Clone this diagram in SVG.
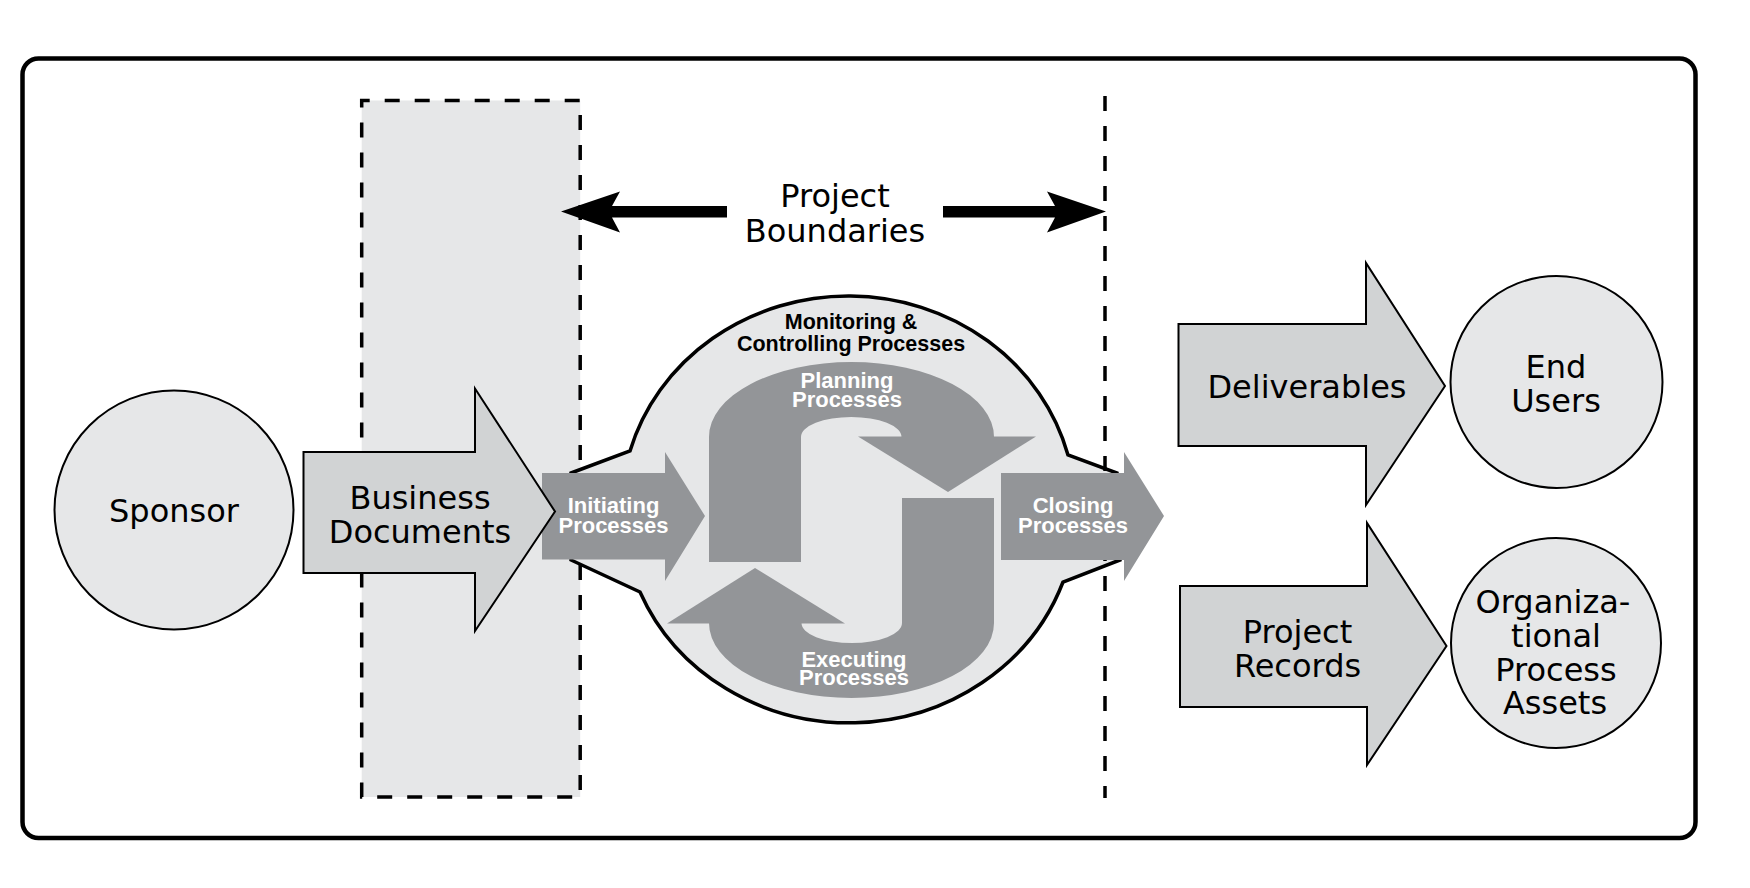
<svg xmlns="http://www.w3.org/2000/svg" width="1750" height="888" viewBox="0 0 1750 888">
  <style>
    .lbl { font-family: "DejaVu Sans", "Liberation Sans", sans-serif; font-size: 32px; fill: #000; text-anchor: middle; }
    .proc { font-family: "Liberation Sans", Arial, sans-serif; font-weight: bold; font-size: 22px; fill: #fff; text-anchor: middle; }
    .mon { font-family: "Liberation Sans", Arial, sans-serif; font-weight: bold; font-size: 21.5px; fill: #000; text-anchor: middle; }
    .light { fill: #e6e7e8; stroke: #000; stroke-width: 2; }
    .arrowL { fill: #d1d3d4; stroke: #000; stroke-width: 2; stroke-linejoin: miter; }
    .dark { fill: #939598; stroke: none; }
    .dash { fill: none; stroke: #000; stroke-width: 3.5; stroke-dasharray: 15 15; }
  </style>
  <rect x="0" y="0" width="1750" height="888" fill="#fff"/>
  <rect id="frame" x="22.5" y="58.5" width="1673" height="779.5" rx="16" ry="16" fill="#fff" stroke="#000" stroke-width="4.5"/>

  <g id="boundary-zone">
    <rect x="361.7" y="100.5" width="218.5" height="696.5" fill="#e6e7e8" stroke="none"/>
    <rect x="361.7" y="100.5" width="218.5" height="696.5" class="dash" stroke-dashoffset="7"/>
  </g>

  <g id="process-cloud">
    <path d="M 571 473 L 630 451 A 227 213 0 0 1 1068 455 L 1117 473 L 1120 560 L 1063 582 A 227 213 0 0 1 640 592 L 571 560 Z" fill="#e6e7e8" stroke="#000" stroke-width="3.5" stroke-linejoin="miter"/>
    <text class="mon" x="851" y="329">Monitoring &amp;<tspan x="851" dy="22">Controlling Processes</tspan></text>
  </g>

  <g id="connectors">
    <line x1="1105" y1="96" x2="1105" y2="798" class="dash"/>
    <polygon points="561,211.5 620,191.5 612,206 727,206 727,217.5 612,217.5 620,232.5" fill="#000"/>
    <polygon points="1106,211.5 1047,191.5 1055,206 943,206 943,217.5 1055,217.5 1047,232.5" fill="#000"/>
  </g>

  <g id="project-boundaries">
    <text class="lbl" x="835" y="207">Project<tspan x="835" dy="35">Boundaries</tspan></text>
  </g>

  <g id="planning">
    <path class="dark" d="M 709 562 L 709 437 A 142.5 75 0 0 1 994 437 L 901.5 437 A 50.25 20 0 0 0 801 437 L 801 562 Z"/>
    <polygon class="dark" points="858,436.5 1036,436.5 948,492"/>
    <text class="proc" x="847" y="388">Planning<tspan x="847" dy="19">Processes</tspan></text>
  </g>

  <g id="executing">
    <g transform="rotate(180 851.5 530)">
      <path class="dark" d="M 709 562 L 709 437 A 142.5 75 0 0 1 994 437 L 901.5 437 A 50.25 20 0 0 0 801 437 L 801 562 Z"/>
      <polygon class="dark" points="858,436.5 1036,436.5 948,492"/>
    </g>
    <text class="proc" x="854" y="667">Executing<tspan x="854" dy="18">Processes</tspan></text>
  </g>

  <g id="initiating">
    <polygon class="dark" points="542,473 665,473 665,452 705,516 665,581 665,559.5 542,559.5"/>
    <text class="proc" x="613.5" y="513">Initiating<tspan x="613.5" dy="20">Processes</tspan></text>
  </g>

  <g id="closing">
    <polygon class="dark" points="1001,473 1124,473 1124,452 1164,516 1124,581 1124,560 1001,560"/>
    <text class="proc" x="1073" y="513">Closing<tspan x="1073" dy="20">Processes</tspan></text>
  </g>

  <g id="sponsor">
    <circle class="light" cx="174" cy="510" r="119.5"/>
    <text class="lbl" x="174" y="522">Sponsor</text>
  </g>

  <g id="business-documents">
    <polygon class="arrowL" points="303.5,452 475,452 475,388.5 555,511.5 475,631 475,573 303.5,573"/>
    <text class="lbl" x="420" y="509">Business<tspan x="420" dy="34">Documents</tspan></text>
  </g>

  <g id="deliverables">
    <polygon class="arrowL" points="1178.5,324 1366,324 1366,263 1445,386 1366,505 1366,446 1178.5,446"/>
    <text class="lbl" x="1307" y="398">Deliverables</text>
  </g>

  <g id="end-users">
    <circle class="light" cx="1556.5" cy="382" r="106"/>
    <text class="lbl" x="1556" y="378">End<tspan x="1556" dy="34">Users</tspan></text>
  </g>

  <g id="project-records">
    <polygon class="arrowL" points="1180,586 1367,586 1367,523 1446.5,646 1367,765 1367,707 1180,707"/>
    <text class="lbl" x="1297.5" y="643">Project<tspan x="1297.5" dy="34">Records</tspan></text>
  </g>

  <g id="org-process-assets">
    <circle class="light" cx="1556" cy="643" r="105"/>
    <text class="lbl" x="1553" y="613">Organiza-<tspan x="1556" dy="34">tional</tspan><tspan x="1556" dy="34">Process</tspan><tspan x="1555" dy="33">Assets</tspan></text>
  </g>
</svg>
